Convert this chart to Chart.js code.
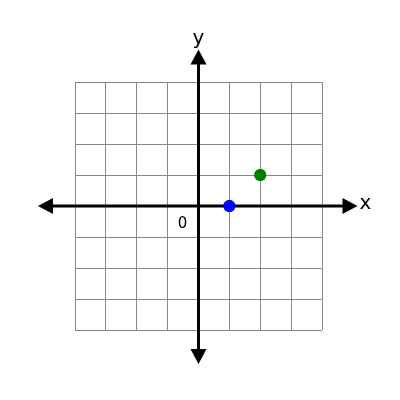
<!DOCTYPE html>
<html><head><style>html,body{margin:0;padding:0;background:#fff}#w{width:400px;height:400px}</style>
<script src="https://cdn.jsdelivr.net/npm/chart.js@4"></script></head>
<body><div id="w"><canvas id="c"></canvas></div>
<script>
const pointsX = [1, 2];
const pointsY = [0, 1];
const pointColors = ['#0000ff', '#008000'];
const axisMin = -4, axisMax = 4;
const axisLabels = ['x', 'y'];
const originLabel = '0';

const axesPlugin = {
  id: 'axes',
  afterDatasetsDraw(chart) {
    const {ctx, scales: {x, y}} = chart;
    const ox = x.getPixelForValue(0), oy = y.getPixelForValue(0);
    const l = x.getPixelForValue(-5.2), r = x.getPixelForValue(5.15);
    const t = y.getPixelForValue(5.05), b = y.getPixelForValue(-5.1);
    ctx.save();
    ctx.strokeStyle = '#000'; ctx.fillStyle = '#000'; ctx.lineWidth = 3;
    ctx.beginPath(); ctx.moveTo(l + 8, oy); ctx.lineTo(r - 8, oy);
    ctx.moveTo(ox, t + 8); ctx.lineTo(ox, b - 8); ctx.stroke();
    const arrow = (px, py, dx, dy) => {
      ctx.beginPath(); ctx.moveTo(px, py);
      ctx.lineTo(px - dx * 15 + dy * 8, py - dy * 15 + dx * 8);
      ctx.lineTo(px - dx * 15 - dy * 8, py - dy * 15 - dx * 8);
      ctx.closePath(); ctx.fill();
    };
    arrow(l, oy, -1, 0); arrow(r, oy, 1, 0); arrow(ox, t, 0, -1); arrow(ox, b, 0, 1);
    ctx.font = '20px "DejaVu Sans", sans-serif';
    ctx.textAlign = 'left'; ctx.textBaseline = 'middle';
    ctx.fillText(axisLabels[0], r + 2, oy - 2);
    ctx.textAlign = 'center'; ctx.textBaseline = 'bottom';
    ctx.fillText(axisLabels[1], ox, t - 1);
    ctx.font = '15px "DejaVu Sans", sans-serif';
    ctx.textBaseline = 'middle';
    ctx.fillText(originLabel, ox - 16, oy + 18);
    // redraw points on top
    chart.getDatasetMeta(0).data.forEach((p, i) => {
      ctx.fillStyle = pointColors[i];
      ctx.beginPath(); ctx.arc(p.x, p.y, 6, 0, Math.PI * 2); ctx.fill();
    });
    ctx.restore();
  }
};

new Chart(document.getElementById('c'), {
  type: 'scatter',
  data: { datasets: [{ data: pointsX.map((v, i) => ({x: v, y: pointsY[i]})), backgroundColor: pointColors, pointRadius: 6, borderWidth: 0 }] },
  options: {
    responsive: true, maintainAspectRatio: false, animation: false,
    layout: { padding: { left: 75, right: 78, top: 82, bottom: 70 } },
    plugins: { legend: { display: false }, tooltip: { enabled: false } },
    scales: {
      x: { type: 'linear', min: axisMin, max: axisMax, ticks: { display: false, stepSize: 1 }, grid: { color: '#888', drawTicks: false, lineWidth: 1 }, border: { display: false } },
      y: { type: 'linear', min: axisMin, max: axisMax, ticks: { display: false, stepSize: 1 }, grid: { color: '#888', drawTicks: false, lineWidth: 1 }, border: { display: false } }
    }
  },
  plugins: [axesPlugin]
});
</script></body></html>
